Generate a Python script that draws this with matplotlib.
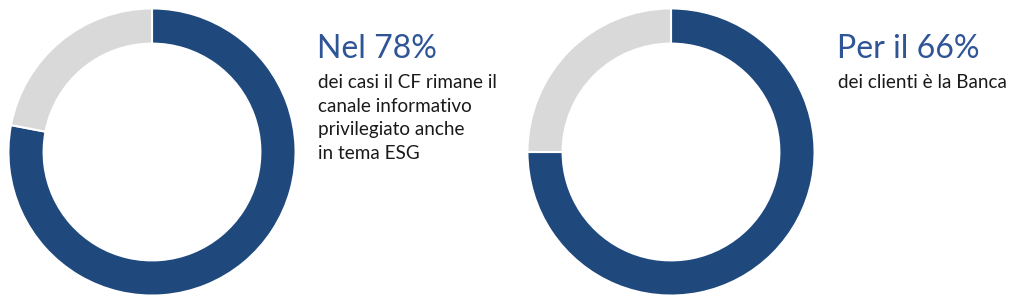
import matplotlib
matplotlib.use("Agg")
import matplotlib.pyplot as plt

# --- data ---
left_shares = [78, 22]     # blue share, grey rest
right_shares = [75, 25]
left_title = "Nel 78%"
left_text = ["dei casi il CF rimane il", "canale informativo", "privilegiato anche", "in tema ESG"]
right_title = "Per il 66%"
right_text = ["dei clienti è la Banca"]

blue = "#1F497D"
grey = "#D9D9D9"
title_col = "#2F5597"
text_col = "#1A1A1A"

W, H = 1024, 308
fig = plt.figure(figsize=(W / 100, H / 100), dpi=100)
plt.rcParams['font.family'] = ['Lato', 'DejaVu Sans']


def donut(cx, cy, r, shares):
    # cx, cy, r in pixels (y from the top of the image)
    ax = fig.add_axes([(cx - r) / W, (H - cy - r) / H, 2 * r / W, 2 * r / H])
    ax.pie(shares, colors=[blue, grey], startangle=90, counterclock=False,
           radius=1, wedgeprops=dict(width=0.245, edgecolor="white", linewidth=1.5))
    ax.set_xlim(-1.01, 1.01)
    ax.set_ylim(-1.01, 1.01)
    ax.set_aspect("equal")
    ax.axis("off")


donut(152, 152, 145, left_shares)
donut(671, 152, 145, right_shares)


def block(x, y_title, title, lines):
    fig.text(x / W, 1 - y_title / H, title, color=title_col, fontsize=23, va="baseline", ha="left")
    for i, line in enumerate(lines):
        fig.text((x + 1) / W, 1 - (y_title + 30 + 23.7 * i) / H, line, color=text_col,
                 fontsize=13.6, va="baseline", ha="left")


block(317, 58, left_title, left_text)
block(837, 58, right_title, right_text)

fig.savefig("out.png", dpi=100, facecolor="white")
